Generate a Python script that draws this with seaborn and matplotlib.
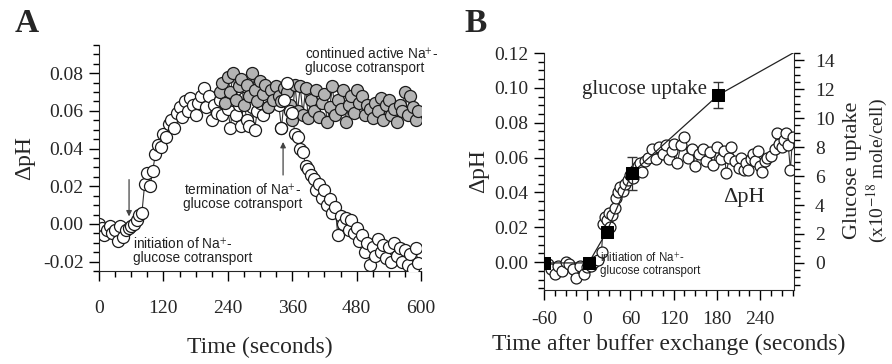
import numpy as np
import pandas as pd
import matplotlib
matplotlib.use("Agg")
import matplotlib.pyplot as plt
from matplotlib.ticker import MultipleLocator, FormatStrFormatter
import seaborn as sns

# ---------------- data ----------------
# Panel A: white series (terminated at ~340 s)
a_time = list(range(0, 600, 5))
a_white = [0.000, -0.002, -0.006, -0.003, -0.001, -0.005, -0.003, -0.009, -0.001, -0.007, -0.003, -0.002,
           -0.001, 0.000, 0.002, 0.005, 0.006,
           0.021, 0.027, 0.020, 0.028, 0.037, 0.042, 0.041, 0.048, 0.046, 0.053, 0.055, 0.051, 0.059,
           0.062, 0.057, 0.065, 0.060, 0.067, 0.063, 0.058, 0.064, 0.068, 0.072, 0.062, 0.068, 0.055,
           0.063, 0.059, 0.066, 0.058, 0.069, 0.061, 0.051, 0.066, 0.058, 0.063, 0.052, 0.067, 0.055,
           0.052, 0.062, 0.050, 0.060, 0.064, 0.058, 0.066, 0.062, 0.070, 0.065, 0.068, 0.063, 0.051,
           0.066, 0.075, 0.060, 0.059, 0.048, 0.046, 0.040, 0.038, 0.031, 0.029, 0.026, 0.024, 0.018,
           0.021, 0.014, 0.018, 0.010, 0.013, 0.006, 0.009, -0.006, 0.004, 0.000, 0.003, -0.003, 0.002,
           -0.005, -0.002, -0.009, -0.006, -0.015, -0.010, -0.022, -0.012, -0.017, -0.008, -0.015,
           -0.011, -0.018, -0.012, -0.020, -0.010, -0.017, -0.013, -0.020, -0.014, -0.022, -0.016,
           -0.024, -0.013, -0.021]
a_term_time = 345  # split between plateau part and declining part (drawing order)

# Panel A: gray series (continued cotransport)
a_gray_time = list(range(225, 600, 5))
a_gray = [0.070, 0.075, 0.064, 0.078, 0.070, 0.080, 0.066, 0.073, 0.077, 0.063, 0.074, 0.068, 0.080,
          0.071, 0.065, 0.076, 0.069, 0.074, 0.062, 0.071, 0.066, 0.073, 0.068, 0.065, 0.072, 0.070,
          0.063, 0.055, 0.074, 0.060, 0.073, 0.058, 0.072, 0.056, 0.066, 0.060, 0.071, 0.057, 0.064,
          0.069, 0.054, 0.062, 0.073, 0.058, 0.066, 0.061, 0.071, 0.054, 0.063, 0.068, 0.059, 0.071,
          0.064, 0.068, 0.058, 0.063, 0.061, 0.056, 0.064, 0.060, 0.067, 0.055, 0.063, 0.066, 0.058,
          0.061, 0.054, 0.063, 0.060, 0.070, 0.058, 0.068, 0.062, 0.055, 0.060]

# Panel B: dpH series
b_time = [-55, -50, -45, -40, -35, -30, -25, -20, -15, -10, -5, 0, 5, 10, 15, 20, 22, 25, 27, 30,
          32, 35, 38, 40, 43, 46, 50, 53, 56, 60, 63, 66, 70, 73, 76, 80, 85, 90, 95, 100, 105,
          110, 113, 117, 120, 125, 130, 135, 140, 145, 150, 155, 160, 165, 170, 175, 180, 185,
          190, 193, 197, 200, 205, 210, 213, 217, 220, 223, 227, 230, 233, 237, 240, 243, 247,
          250, 255, 260, 263, 266, 270, 273, 276, 279, 282, 285]
b_dph = [-0.001, -0.004, -0.007, -0.002, -0.005, 0.000, -0.001, -0.004, -0.009, -0.002, -0.007,
         -0.003, -0.002, 0.000, 0.001, 0.006, 0.022, 0.026, 0.024, 0.028, 0.020, 0.027, 0.031,
         0.037, 0.040, 0.043, 0.041, 0.045, 0.047, 0.050, 0.048, 0.053, 0.055, 0.057, 0.052, 0.058,
         0.060, 0.065, 0.059, 0.066, 0.062, 0.067, 0.059, 0.064, 0.068, 0.057, 0.067, 0.072, 0.060,
         0.065, 0.055, 0.062, 0.065, 0.058, 0.063, 0.056, 0.066, 0.059, 0.064, 0.051, 0.060, 0.066,
         0.058, 0.054, 0.060, 0.053, 0.057, 0.053, 0.059, 0.062, 0.058, 0.064, 0.055, 0.052, 0.058,
         0.060, 0.061, 0.065, 0.074, 0.068, 0.066, 0.070, 0.074, 0.067, 0.053, 0.072]

# Panel B: glucose uptake (x10^-18 mole/cell)
g_time = [-60, 2, 27, 62, 182]
g_uptake = [0.0, 0.0, 2.15, 6.2, 11.6]
g_err = [0.0, 0.0, 0.3, 1.15, 0.9]
g_trend_time = 300      # trend line continues beyond the last measurement
g_trend_value = 14.9

# ---------------- style ----------------
sns.set_style("ticks")
plt.rcParams["font.family"] = ["Liberation Serif", "DejaVu Serif"]
plt.rcParams["mathtext.fontset"] = "stix"
plt.rcParams["axes.unicode_minus"] = False
SANS = ["Liberation Sans", "DejaVu Sans"]
EDGE = "#1a1a1a"
GRAY = "#b4b4b4"
LINE = "#333333"

fig = plt.figure(figsize=(8.92, 3.64), dpi=100)
axA = fig.add_axes([99 / 892, 1 - 271 / 364, 322 / 892, 226 / 364])
axB = fig.add_axes([544 / 892, 1 - 290 / 364, 250 / 892, 237 / 364])


def style_ticks(ax):
    ax.tick_params(which="major", direction="out", length=7, width=1, color="black",
                   labelsize=14, pad=4)
    ax.tick_params(which="minor", direction="out", length=4, width=1, color="black")


# ---------------- Panel A ----------------
dfw = pd.DataFrame({"t": a_time, "v": a_white})
dfg = pd.DataFrame({"t": a_gray_time, "v": a_gray})
w1 = dfw[dfw.t < a_term_time]
w2 = dfw[dfw.t >= a_term_time - 5]
MS_A = 75

sns.lineplot(data=dfw, x="t", y="v", ax=axA, color=LINE, lw=0.8, sort=False, estimator=None, zorder=1)
sns.scatterplot(data=w1, x="t", y="v", ax=axA, s=MS_A, color="white", edgecolor=EDGE, linewidth=0.9, zorder=2)
sns.lineplot(data=dfg, x="t", y="v", ax=axA, color=LINE, lw=0.8, sort=False, estimator=None, zorder=3)
sns.scatterplot(data=dfg, x="t", y="v", ax=axA, s=MS_A, color=GRAY, edgecolor=EDGE, linewidth=0.9, zorder=4)
sns.scatterplot(data=w2, x="t", y="v", ax=axA, s=MS_A, color="white", edgecolor=EDGE, linewidth=0.9, zorder=5)

axA.set_xlim(0, 600)
axA.set_ylim(-0.025, 0.095)
axA.xaxis.set_major_locator(MultipleLocator(120))
axA.xaxis.set_minor_locator(MultipleLocator(30))
axA.yaxis.set_major_locator(MultipleLocator(0.02))
axA.yaxis.set_minor_locator(MultipleLocator(0.005))
axA.yaxis.set_major_formatter(FormatStrFormatter("%.2f"))
style_ticks(axA)
axA.tick_params(axis="x", pad=14)
sns.despine(ax=axA)
axA.set_xlabel("Time (seconds)", fontsize=17, labelpad=14)
axA.set_ylabel("ΔpH", fontsize=17, labelpad=6)

axA.annotate("", xy=(56, 0.0025), xytext=(56, 0.025),
             arrowprops=dict(arrowstyle="-|>", color="#444444", lw=0.9, mutation_scale=8))
axA.annotate("", xy=(343, 0.045), xytext=(343, 0.0245),
             arrowprops=dict(arrowstyle="-|>", color="#444444", lw=0.9, mutation_scale=8))
axA.text(63, -0.0141, "initiation of Na$^{+}$-\nglucose cotransport", family=SANS, fontsize=9.8,
         ha="left", va="center", linespacing=1.0, color="#222222")
axA.text(268, 0.0144, "termination of Na$^{+}$-\nglucose cotransport", family=SANS, fontsize=9.8,
         ha="center", va="center", linespacing=1.0, color="#222222")
axA.text(384, 0.0869, "continued active Na$^{+}$-\nglucose cotransport", family=SANS, fontsize=9.8,
         ha="left", va="center", linespacing=1.0, color="#222222", clip_on=False)

# ---------------- Panel B ----------------
axB2 = axB.twinx()
dfb = pd.DataFrame({"t": b_time, "v": b_dph})
sns.lineplot(data=dfb, x="t", y="v", ax=axB, color=LINE, lw=0.8, sort=False, estimator=None, zorder=1)
sns.scatterplot(data=dfb, x="t", y="v", ax=axB, s=62, color="white", edgecolor=EDGE, linewidth=0.9, zorder=2)

dfgl = pd.DataFrame({"t": g_time + [g_trend_time], "u": g_uptake + [g_trend_value]})
sns.lineplot(data=dfgl, x="t", y="u", ax=axB2, color="#222222", lw=0.9, sort=False, estimator=None, zorder=3)
axB2.errorbar(g_time, g_uptake, yerr=g_err, fmt="none", ecolor="#333333", elinewidth=0.9, capsize=3.5, zorder=4)
dfsq = pd.DataFrame({"t": g_time, "u": g_uptake})
sns.scatterplot(data=dfsq, x="t", y="u", ax=axB2, marker="s", s=85, color="black", edgecolor="black", zorder=5)

axB.set_xlim(-60, 287)
axB.set_ylim(-0.016, 0.12)
axB2.set_ylim(-1.87, 14.5)
axB.xaxis.set_minor_locator(MultipleLocator(15))
axB.yaxis.set_major_locator(MultipleLocator(0.02))
axB.yaxis.set_minor_locator(MultipleLocator(0.005))
axB.yaxis.set_major_formatter(FormatStrFormatter("%.2f"))
axB2.yaxis.set_minor_locator(MultipleLocator(0.5))
axB2.set_yticks([0, 2, 4, 6, 8, 10, 12, 14])
axB.set_xticks([-60, 0, 60, 120, 180, 240])
style_ticks(axB)
style_ticks(axB2)
axB.tick_params(axis="x", pad=8)
axB2.tick_params(axis="y", pad=8)
for ax in (axB, axB2):
    ax.spines["top"].set_visible(False)
axB.spines["right"].set_visible(False)
axB2.spines["left"].set_visible(False)
axB2.spines["bottom"].set_visible(False)
axB.set_xlabel("Time after buffer exchange (seconds)", fontsize=17, labelpad=4)
axB.set_ylabel("ΔpH", fontsize=17, labelpad=4)
axB2.set_ylabel("")
fig.text(853 / 892, 1 - 170 / 364, "Glucose uptake", rotation=90, fontsize=16, ha="center", va="center")
fig.text(877 / 892, 1 - 170 / 364, "(x10$^{-18}$ mole/cell)", rotation=90, fontsize=14, ha="center", va="center")

axB.text(0.40, 0.844, "glucose uptake", transform=axB.transAxes, fontsize=15, ha="center", va="center")
axB.text(0.80, 0.392, "ΔpH", transform=axB.transAxes, fontsize=16, ha="center", va="center")
axB.text(0.224, 0.11, "initiation of Na$^{+}$-\nglucose cotransport", transform=axB.transAxes,
         family=SANS, fontsize=8.3, ha="left", va="center", linespacing=1.0, color="#222222")

# panel letters
fig.text(15 / 892, 1 - 24 / 364, "A", fontsize=24, fontweight="bold", ha="left", va="center")
fig.text(464 / 892, 1 - 24 / 364, "B", fontsize=24, fontweight="bold", ha="left", va="center")

fig.savefig("out.png", dpi=100)
